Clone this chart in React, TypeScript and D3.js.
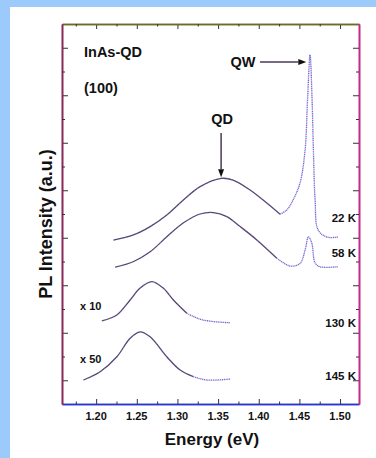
import React, { useEffect, useRef } from 'react';
import * as d3 from 'd3';

const W = 376;
const H = 458;

// Energy (eV) / PL intensity (arb. offset units)
const energy22K = [1.2213, 1.2459, 1.2664, 1.2869, 1.3073, 1.3279, 1.3537, 1.3684, 1.3893, 1.4099, 1.4262, 1.4345, 1.4422, 1.4508, 1.4570, 1.4600, 1.4631, 1.4656, 1.4672, 1.4693, 1.4730, 1.4837, 1.4975];
const pl22K = [6.90, 7.12, 7.47, 7.96, 8.59, 9.15, 9.50, 9.43, 9.01, 8.46, 7.99, 8.17, 8.59, 9.31, 10.70, 12.8, 14.70, 12.8, 10.70, 8.59, 7.33, 7.03, 7.03];

const energy58K = [1.2234, 1.2455, 1.2664, 1.2869, 1.3070, 1.3279, 1.3442, 1.3607, 1.3771, 1.3976, 1.4222, 1.4385, 1.4508, 1.4570, 1.4611, 1.4652, 1.4693, 1.4754, 1.4975];
const pl58K = [5.76, 5.99, 6.41, 7.04, 7.62, 8.00, 8.06, 7.89, 7.47, 6.91, 6.14, 5.81, 5.92, 6.48, 7.04, 6.78, 5.94, 5.78, 5.78];

const energy130K = [1.2070, 1.2255, 1.2418, 1.2541, 1.2685, 1.2824, 1.2950, 1.3115, 1.3279, 1.3442, 1.3648];
const pl130K = [3.50, 3.75, 4.38, 4.88, 5.15, 4.88, 4.38, 3.82, 3.57, 3.47, 3.42];

const energy145K = [1.1844, 1.2049, 1.2255, 1.2418, 1.2541, 1.2664, 1.2869, 1.3033, 1.3196, 1.3361, 1.3648];
const pl145K = [1.01, 1.36, 1.99, 2.77, 3.04, 2.83, 1.99, 1.43, 1.15, 1.01, 1.05];

const curveLabels = ['22 K', '58 K', '130 K', '145 K'];
const curveLabelLevels = [7.66, 6.19, 3.24, 1.01];
const curveScales = ['', '', 'x 10', 'x 50'];
const curveScaleLevels = [0, 0, 3.96, 1.73];
const solidUntil = [1.4262, 1.4222, 1.3115, 1.3196];

const xMajorTicks = [1.20, 1.25, 1.30, 1.35, 1.40, 1.45, 1.50];
const xMinorTicks = [1.175, 1.225, 1.275, 1.325, 1.375, 1.425, 1.475];
const yMajorTicks = [1, 3, 5, 7, 9, 11, 13, 15];
const yMinorTicks = [2, 4, 6, 8, 10, 12, 14];

const FONT = '"Liberation Sans", Arial, sans-serif';

function PLChart() {
  const svgRef = useRef<SVGSVGElement>(null);

  useEffect(() => {
    const left = 62, top = 24, right = 359, bottom = 404;
    const svg = d3.select(svgRef.current);
    svg.selectAll('*').remove();

    // page background
    svg.append('rect').attr('width', W).attr('height', H).attr('fill', '#9ccbfb');
    svg.append('rect').attr('x', 10).attr('y', 7).attr('width', W - 10).attr('height', H - 7).attr('fill', '#ffffff');

    const x = d3.scaleLinear().domain([1.158, 1.5233]).range([left, right]);
    const y = d3.scaleLinear().domain([0, 16]).range([bottom, top]);

    // Axes with inward ticks on all four sides
    const addAxis = (axis: any, tf: string, color: string) => {
      const g = svg.append('g').attr('transform', tf).call(axis);
      g.select('.domain').attr('stroke', color).attr('stroke-width', 1.6);
      g.selectAll('.tick line').attr('stroke', '#333').attr('stroke-width', 1);
      g.selectAll('.tick text').remove();
      return g;
    };
    addAxis(d3.axisBottom(x).tickValues(xMajorTicks).tickSizeInner(-5).tickSizeOuter(0), `translate(0,${bottom})`, '#2a35d0');
    addAxis(d3.axisBottom(x).tickValues(xMinorTicks).tickSizeInner(-2.5).tickSizeOuter(0), `translate(0,${bottom})`, '#2a35d0');
    addAxis(d3.axisTop(x).tickValues(xMajorTicks).tickSizeInner(-5).tickSizeOuter(0), `translate(0,${top})`, '#6f6a2a');
    addAxis(d3.axisTop(x).tickValues(xMinorTicks).tickSizeInner(-2.5).tickSizeOuter(0), `translate(0,${top})`, '#6f6a2a');
    addAxis(d3.axisLeft(y).tickValues(yMajorTicks).tickSizeInner(-6).tickSizeOuter(0), `translate(${left},0)`, '#8a2a5a');
    addAxis(d3.axisLeft(y).tickValues(yMinorTicks).tickSizeInner(-3).tickSizeOuter(0), `translate(${left},0)`, '#8a2a5a');
    addAxis(d3.axisRight(y).tickValues(yMajorTicks).tickSizeInner(-6).tickSizeOuter(0), `translate(${right},0)`, '#c42a8a');
    addAxis(d3.axisRight(y).tickValues(yMinorTicks).tickSizeInner(-3).tickSizeOuter(0), `translate(${right},0)`, '#c42a8a');

    // X tick labels
    svg.append('g').selectAll('text')
      .data(xMajorTicks)
      .enter()
      .append('text')
      .attr('x', d => x(d))
      .attr('y', 420)
      .attr('text-anchor', 'middle')
      .attr('font-family', FONT)
      .attr('font-weight', 'bold')
      .attr('font-size', '11px')
      .attr('fill', '#111')
      .text(d => d.toFixed(2));

    // Curves
    const series = [
      { e: energy22K, v: pl22K },
      { e: energy58K, v: pl58K },
      { e: energy130K, v: pl130K },
      { e: energy145K, v: pl145K },
    ];
    const line = d3.line<[number, number]>()
      .x(d => x(d[0]))
      .y(d => y(d[1]))
      .curve(d3.curveCatmullRom.alpha(0.5));

    series.forEach((s, i) => {
      const pts: [number, number][] = s.e.map((e, k) => [e, s.v[k]]);
      const solid = pts.filter(p => p[0] <= solidUntil[i]);
      const tail = pts.filter(p => p[0] >= solidUntil[i]);
      svg.append('path').attr('d', line(solid)).attr('fill', 'none')
        .attr('stroke', '#5b3f78').attr('stroke-width', 1.3);
      svg.append('path').attr('d', line(solid)).attr('fill', 'none')
        .attr('stroke', '#3fb07a').attr('stroke-width', 0.8).attr('stroke-dasharray', '1,3').attr('opacity', 0.7);
      svg.append('path').attr('d', line(tail)).attr('fill', 'none')
        .attr('stroke', '#b845c8').attr('stroke-width', 1.3).attr('stroke-dasharray', '1.2,2.4');
      svg.append('path').attr('d', line(tail)).attr('fill', 'none')
        .attr('stroke', '#3a8fd8').attr('stroke-width', 1.3).attr('stroke-dasharray', '1.2,2.4').attr('stroke-dashoffset', 1.8);

      svg.append('text')
        .attr('x', 356)
        .attr('y', y(curveLabelLevels[i]))
        .attr('text-anchor', 'end')
        .attr('font-family', FONT)
        .attr('font-weight', 'bold')
        .attr('font-size', '11.5px')
        .attr('fill', '#111')
        .text(curveLabels[i]);

      if (curveScales[i]) {
        svg.append('text')
          .attr('x', 80)
          .attr('y', y(curveScaleLevels[i]))
          .attr('font-family', FONT)
          .attr('font-weight', 'bold')
          .attr('font-size', '11px')
          .attr('fill', '#111')
          .text(curveScales[i]);
      }
    });

    // Annotations
    const textAt = (tx: number, ty: number, t: string, size: number, anchor = 'start') =>
      svg.append('text').attr('x', tx).attr('y', ty).attr('text-anchor', anchor)
        .attr('font-family', FONT).attr('font-weight', 'bold').attr('font-size', `${size}px`)
        .attr('fill', '#111').text(t);

    textAt(84, 57, 'InAs-QD', 14.5);
    textAt(84, 93, '(100)', 14.5);
    textAt(243, 67, 'QW', 14.5, 'middle');
    textAt(222, 124, 'QD', 14.5, 'middle');

    const arrow = (x1: number, y1: number, x2: number, y2: number) => {
      const ang = Math.atan2(y2 - y1, x2 - x1);
      const hl = 8, hw = 3;
      const bx = x2 - hl * Math.cos(ang), by = y2 - hl * Math.sin(ang);
      svg.append('line').attr('x1', x1).attr('y1', y1).attr('x2', bx).attr('y2', by)
        .attr('stroke', '#4a3a5a').attr('stroke-width', 1.5);
      svg.append('path')
        .attr('d', `M${x2},${y2}L${bx - hw * Math.sin(ang)},${by + hw * Math.cos(ang)}L${bx + hw * Math.sin(ang)},${by - hw * Math.cos(ang)}Z`)
        .attr('fill', '#111');
    };
    arrow(260, y(14.4), x(1.4585), y(14.4));
    arrow(x(1.3537), 133, x(1.3537), y(9.55));

    // Axis titles
    svg.append('text')
      .attr('x', 212)
      .attr('y', 445)
      .attr('text-anchor', 'middle')
      .attr('font-family', FONT)
      .attr('font-weight', 'bold')
      .attr('font-size', '17px')
      .attr('fill', '#111')
      .text('Energy (eV)');

    svg.append('text')
      .attr('transform', 'translate(52,224) rotate(-90)')
      .attr('text-anchor', 'middle')
      .attr('font-family', FONT)
      .attr('font-weight', 'bold')
      .attr('font-size', '18px')
      .attr('fill', '#111')
      .text('PL Intensity (a.u.)');
  }, []);

  return <svg ref={svgRef} width={W} height={H} style={{ display: 'block' }}></svg>;
}

export default function App() {
  return (
    <div style={{ position: 'fixed', left: 0, top: 0 }}>
      <PLChart />
    </div>
  );
}
